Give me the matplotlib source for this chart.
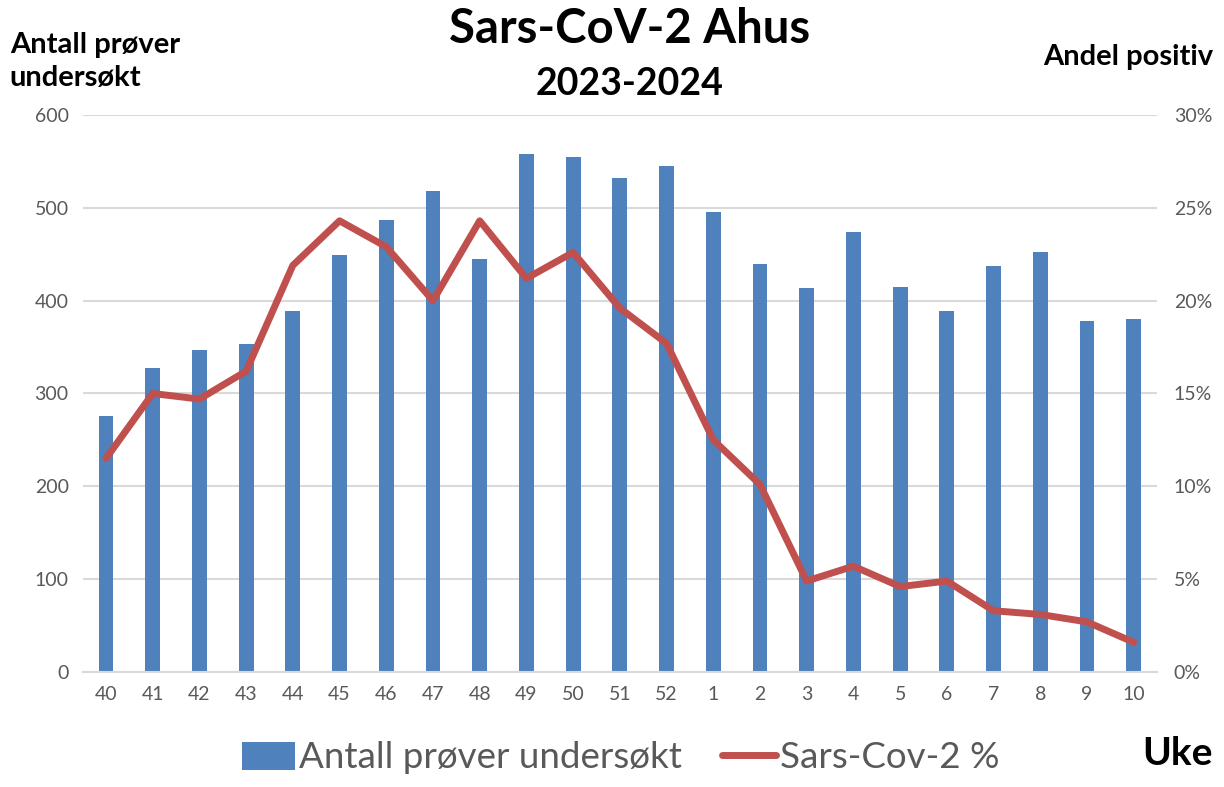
import matplotlib
matplotlib.use("Agg")
import matplotlib.pyplot as plt
from matplotlib.ticker import FuncFormatter
from matplotlib.patches import Patch
from matplotlib.lines import Line2D

weeks = ["40", "41", "42", "43", "44", "45", "46", "47", "48", "49", "50", "51", "52",
         "1", "2", "3", "4", "5", "6", "7", "8", "9", "10"]
antall = [276, 327, 347, 353, 389, 449, 487, 518, 445, 558, 555, 532, 545,
          496, 440, 414, 474, 415, 389, 437, 452, 378, 380]
positiv_pct = [11.5, 15.0, 14.7, 16.2, 21.9, 24.3, 22.9, 20.0, 24.3, 21.2, 22.6, 19.6, 17.7,
               12.5, 10.1, 4.9, 5.7, 4.6, 4.9, 3.3, 3.1, 2.7, 1.6]

plt.rcParams['font.family'] = ['Lato', 'DejaVu Sans']

bar_color = "#4F81BD"
line_color = "#C0504D"
tick_color = "#595959"
grid_color = "#D9D9D9"

fig = plt.figure(figsize=(12.24, 7.87), dpi=100)
ax = fig.add_axes([0.0675, 0.1461, 0.8778, 0.7078])
x = list(range(len(weeks)))
ax.bar(x, antall, width=0.32, color=bar_color, zorder=2)
ax.set_ylim(0, 600)
ax.set_xlim(-0.5, len(weeks) - 0.5)
ax.set_yticks(range(0, 601, 100))
ax.set_xticks(x)
ax.set_xticklabels(weeks)
ax.yaxis.grid(True, color=grid_color, linewidth=1.5, zorder=0)
ax.set_axisbelow(True)
for s in ["top", "right", "left"]:
    ax.spines[s].set_visible(False)
ax.spines["bottom"].set_color(grid_color)
ax.spines["bottom"].set_linewidth(1.5)
ax.tick_params(axis="both", length=0, labelsize=14, colors=tick_color, pad=10)

ax2 = ax.twinx()
ax2.plot(x, positiv_pct, color=line_color, linewidth=5, solid_capstyle="round",
         solid_joinstyle="round", zorder=3)
ax2.set_ylim(0, 30)
ax2.set_yticks(range(0, 31, 5))
ax2.yaxis.set_major_formatter(FuncFormatter(lambda v, p: f"{int(v)}%"))
for s in ["top", "right", "left", "bottom"]:
    ax2.spines[s].set_visible(False)
ax2.tick_params(axis="y", length=0, labelsize=14, colors=tick_color, pad=12)

fig.text(0.514, 0.963, "Sars-CoV-2 Ahus", ha="center", va="center",
         fontsize=34, fontweight="bold", color="black")
fig.text(0.514, 0.893, "2023-2024", ha="center", va="center",
         fontsize=27, fontweight="bold", color="black")
fig.text(0.008, 0.922, "Antall prøver\nundersøkt", ha="left", va="center",
         fontsize=21, fontweight="bold", color="black", linespacing=1.3)
fig.text(0.991, 0.928, "Andel positiv", ha="right", va="center",
         fontsize=21, fontweight="bold", color="black")
fig.text(0.991, 0.042, "Uke", ha="right", va="center",
         fontsize=28, fontweight="bold", color="black")

handles = [Patch(facecolor=bar_color, label="Antall prøver undersøkt"),
           Line2D([0], [0], color=line_color, linewidth=5, solid_capstyle="round",
                  label="Sars-Cov-2 %")]
leg = fig.legend(handles=handles, loc="center", bbox_to_anchor=(0.507, 0.037),
                 ncol=2, frameon=False, fontsize=26.5, handlelength=1.45,
                 handleheight=0.8, handletextpad=0.1, columnspacing=1.1)
for t in leg.get_texts():
    t.set_color(tick_color)

fig.savefig("out.png", dpi=100)
